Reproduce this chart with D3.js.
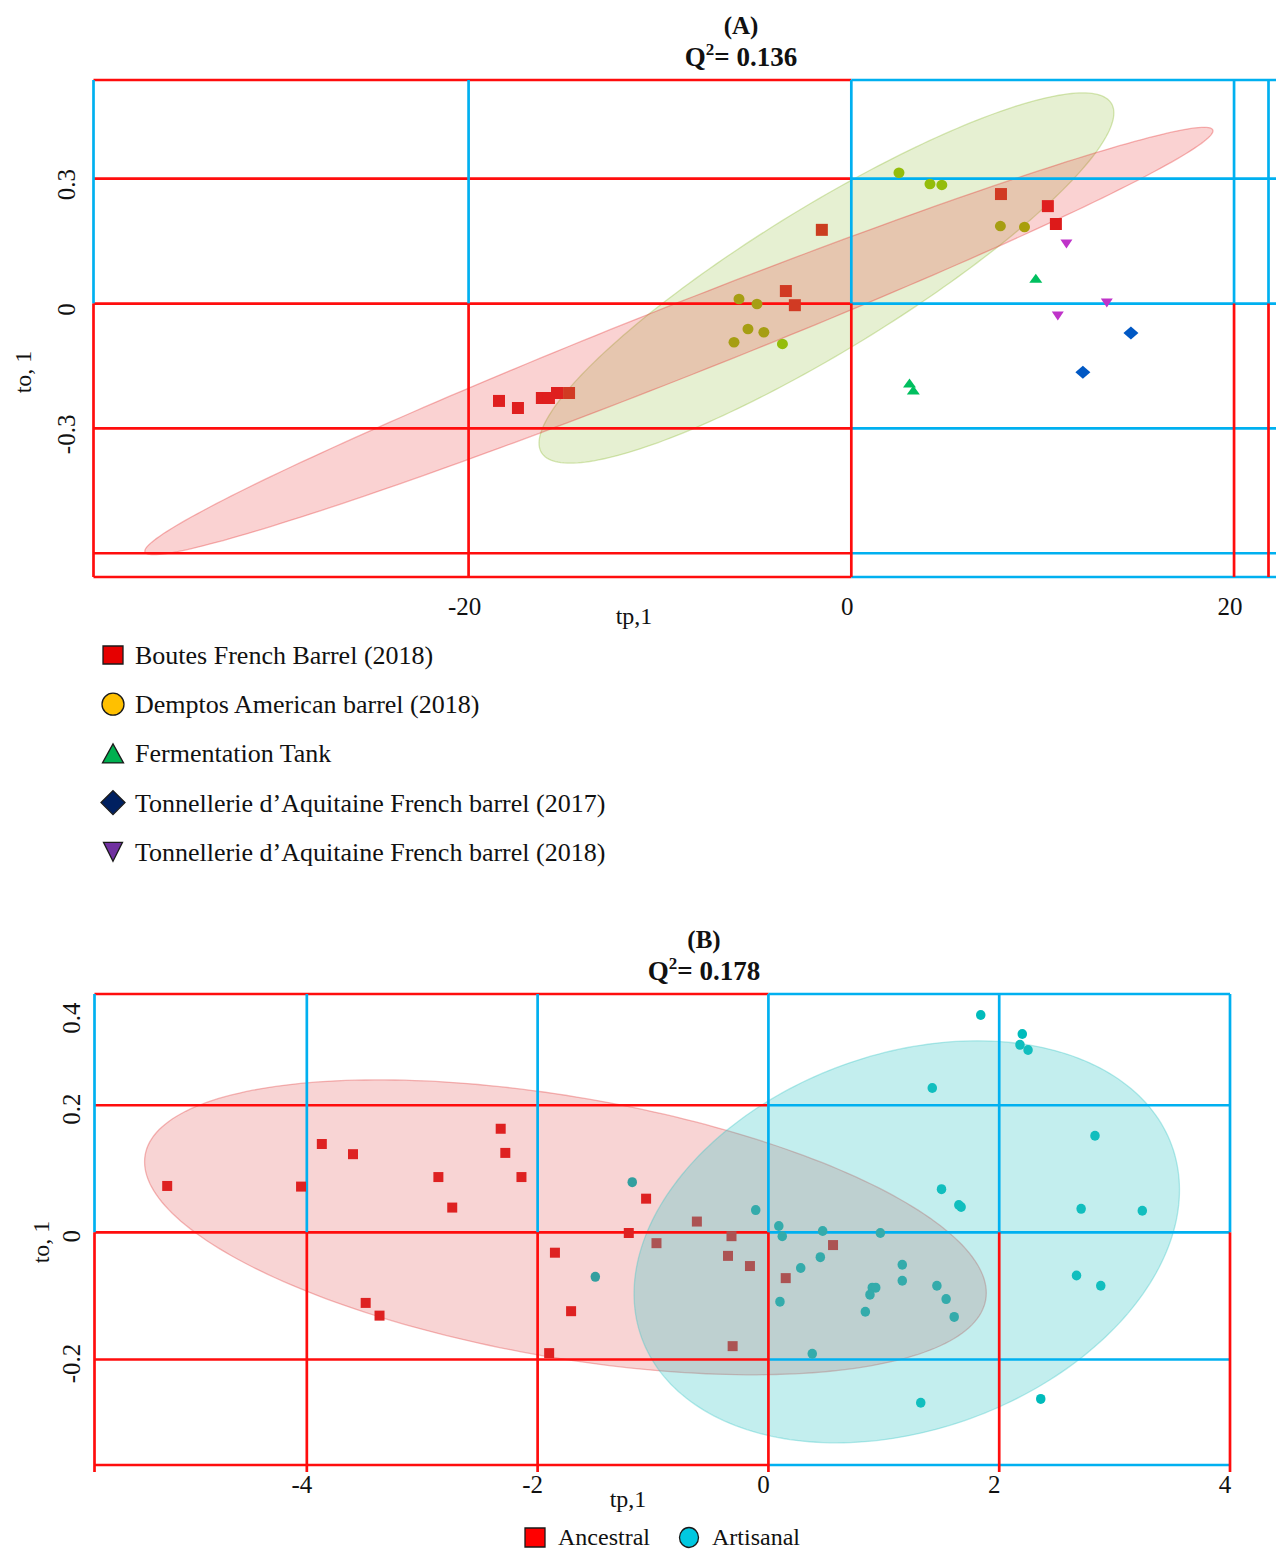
<!DOCTYPE html>
<html>
<head>
<meta charset="utf-8">
<script src="https://cdn.jsdelivr.net/npm/d3@7"></script>
<style>
body { margin: 0; background: #fff; }
svg { display: block; font-family: 'Liberation Serif', 'Times New Roman', serif; }
</style>
</head>
<body>
<div id="chart"></div>
<script>
// ---- panel A : five barrel groups ----
const groupsA = ['Boutes French Barrel (2018)', 'Demptos American barrel (2018)', 'Fermentation Tank',
	'Tonnellerie d\u2019Aquitaine French barrel (2017)', 'Tonnellerie d\u2019Aquitaine French barrel (2018)'];

const boutesX = [-18.41, -17.42, -16.17, -15.80, -15.38, -14.75, -3.42, -2.95, -1.54, 7.82, 10.27, 10.69];
const boutesY = [-0.234, -0.251, -0.227, -0.227, -0.215, -0.215, 0.030, -0.004, 0.177, 0.263, 0.234, 0.191];
const demptosX = [2.49, 4.11, 4.73, 7.79, 9.05, -5.87, -4.93, -5.40, -4.57, -6.13, -3.60];
const demptosY = [0.314, 0.287, 0.285, 0.186, 0.184, 0.011, -0.001, -0.061, -0.069, -0.093, -0.097];
const tankX = [9.64, 3.04, 3.24];
const tankY = [0.061, -0.191, -0.208];
const tonn2017X = [14.61, 12.10];
const tonn2017Y = [-0.071, -0.165];
const tonn2018X = [11.24, 13.35, 10.79];
const tonn2018Y = [0.143, 0.001, -0.030];

// confidence ellipses: centre x, centre y, semi-axis u (x, y), semi-axis v (x, y)
const ellipseDemptos = [-1.30, 0.0613, 14.89, 0.4195, 1.964, -0.1476];
const ellipseBoutes = [-9.01, -0.090, 27.9, 0.507, 0.69, -0.0805];

const xTicksA = [-20, 0, 20];
const yTicksA = [0.3, 0, -0.3];
const yExtraA = [-0.6];

// ---- panel B : Ancestral vs Artisanal ----
const groupsB = ['Ancestral', 'Artisanal'];

const ancestralX = [-5.21, -4.05, -3.87, -3.60, -2.86, -2.74, -2.32, -2.28, -2.14, -1.21, -1.06, -1.85,
	-0.97, -0.62, -0.35, -0.32, -0.16, 0.15, 0.56, -3.49, -3.37, -1.71, -1.90, -0.31];
const ancestralY = [0.073, 0.072, 0.139, 0.123, 0.087, 0.039, 0.163, 0.125, 0.087, -0.001, 0.053, -0.032,
	-0.017, 0.017, -0.037, -0.006, -0.053, -0.072, -0.020, -0.111, -0.131, -0.124, -0.190, -0.179];
const artisanalX = [1.84, 2.20, 2.18, 2.25, 1.42, 2.83, 1.50, 1.65, 1.67, 2.71, 3.24, -1.18, -0.11, 0.09,
	0.12, 0.47, 0.97, 0.28, 0.45, 1.16, 1.16, 0.90, 0.93, 0.88, 0.10, 0.84, 1.46, 1.54, 1.61, 0.38,
	1.32, 2.36, 2.67, 2.88, -1.50];
const artisanalY = [0.342, 0.312, 0.295, 0.287, 0.227, 0.152, 0.068, 0.043, 0.040, 0.037, 0.034, 0.079,
	0.035, 0.010, -0.006, 0.002, -0.001, -0.056, -0.039, -0.051, -0.076, -0.087, -0.087, -0.098, -0.109,
	-0.125, -0.084, -0.105, -0.133, -0.191, -0.268, -0.262, -0.068, -0.084, -0.070];

const ellipseAncestral = [-1.759, 0.0079, 3.642, -0.1139, -0.1925, -0.2021];
const ellipseArtisanal = [1.199, -0.0149, 2.297, 0.1513, 0.556, -0.2777];

const xTicksB = [-4, -2, 0, 2, 4];
const yTicksB = [0.4, 0.2, 0, -0.2];
const yGridB = [0.2, 0, -0.2];

// ---- layout ----
const width = 1276, height = 1550;
const red = '#ff0d0d', blue = '#00b0f0';

const svg = d3.select('#chart')
.append('svg')
.attr('width', width)
.attr('height', height);

const xA = d3.scaleLinear().domain([-39.6, 21.8]).range([93.5, 1268.5]);
const yA = d3.scaleLinear().domain([0.537, -0.657]).range([80, 577]);
const xB = d3.scaleLinear().domain([-5.84, 4]).range([94.5, 1230]);
const yB = d3.scaleLinear().domain([0.375, -0.366]).range([994, 1465]);

const shapes = {
	square: (w, h) => `M${-w/2},${-h/2}h${w}v${h}h${-w}Z`,
	circle: (w, h) => `M${-w/2},0a${w/2},${h/2} 0 1,0 ${w},0a${w/2},${h/2} 0 1,0 ${-w},0Z`,
	up: (w, h) => `M0,${-h/2}L${w/2},${h/2}L${-w/2},${h/2}Z`,
	down: (w, h) => `M0,${h/2}L${w/2},${-h/2}L${-w/2},${-h/2}Z`,
	diamond: (w, h) => `M0,${-h/2}L${w/2},0L0,${h/2}L${-w/2},0Z`
};

const inside = (e, px, py) => {
	const [cx, cy, ux, uy, vx, vy] = e;
	const dx = px - cx, dy = py - cy, det = ux * vy - uy * vx;
	const s = (dx * vy - dy * vx) / det, t = (ux * dy - uy * dx) / det;
	return s * s + t * t <= 1;
};

// the ellipses are laid over the markers, so tint each marker by the layers covering it
const tint = (base, layers, px, py) => layers.reduce((c, l) =>
	inside(l.e, px, py) ? d3.interpolateRgb(c, l.fill)(l.alpha) : c, base);

const ellipsePath = (e, x, y) => {
	const [cx, cy, ux, uy, vx, vy] = e;
	return d3.line().curve(d3.curveLinearClosed)(d3.range(0, 2 * Math.PI, Math.PI / 120)
		.map(t => [x(cx + Math.cos(t) * ux + Math.sin(t) * vx), y(cy + Math.cos(t) * uy + Math.sin(t) * vy)]));
};

const drawPanel = (opt) => {

	const { x, y, xLines, yLines, layers, series, overhang, tickLen } = opt;
	const g = svg.append('g');
	const [xl, xr] = x.domain(), [yt, yb] = y.domain();

	g.append('g')
	.selectAll('path')
	.data(layers)
	.join('path')
	.attr('d', l => ellipsePath(l.e, x, y))
	.attr('fill', l => l.fill)
	.attr('fill-opacity', l => l.alpha)
	.attr('stroke', l => l.fill)
	.attr('stroke-opacity', 0.35)
	.attr('stroke-width', 1.3);

	// horizontal lines: red left of zero, blue right of zero
	const hSeg = yLines.flatMap(v => [
		{ x1: x(xl), x2: x(0), y: y(v), c: red },
		{ x1: x(0), x2: x(xr) + overhang, y: y(v), c: blue }
	]);
	// vertical lines: blue above zero, red below zero
	const vSeg = xLines.flatMap(v => [
		{ y1: y(yt), y2: y(0), x: x(v), c: blue },
		{ y1: y(0), y2: y(yb) + tickLen, x: x(v), c: red }
	]);

	g.append('g')
	.selectAll('line')
	.data(hSeg)
	.join('line')
	.attr('x1', d => d.x1).attr('x2', d => d.x2)
	.attr('y1', d => d.y).attr('y2', d => d.y)
	.attr('stroke', d => d.c)
	.attr('stroke-width', 2.7);

	g.append('g')
	.selectAll('line')
	.data(vSeg)
	.join('line')
	.attr('x1', d => d.x).attr('x2', d => d.x)
	.attr('y1', d => d.y1).attr('y2', d => d.y2)
	.attr('stroke', d => d.c)
	.attr('stroke-width', 2.7);

	series.forEach(s => {
		const pts = s.xs.map((v, i) => [v, s.ys[i]]);
		g.append('g')
		.selectAll('path')
		.data(pts)
		.join('path')
		.attr('transform', d => `translate(${x(d[0])},${y(d[1])})`)
		.attr('d', shapes[s.shape](s.w, s.h))
		.attr('fill', d => tint(s.color, layers, d[0], d[1]));
	});

	return g;
};

const text = (str, px, py, size, opts = {}) => svg.append('text')
	.attr('x', px).attr('y', py)
	.attr('font-size', size)
	.attr('font-weight', opts.bold ? 'bold' : 'normal')
	.attr('text-anchor', opts.anchor || 'middle')
	.attr('fill', '#111')
	.text(str);

const rotText = (str, px, py, size) => svg.append('text')
	.attr('transform', `translate(${px},${py}) rotate(-90)`)
	.attr('font-size', size)
	.attr('text-anchor', 'middle')
	.attr('fill', '#111')
	.text(str);

const qTitle = (label, q, cx, y1, y2) => {
	text(label, cx, y1, 25, { bold: true });
	const t = text('Q', cx, y2, 27, { bold: true });
	t.append('tspan').attr('font-size', 17).attr('dy', -11).text('2');
	t.append('tspan').attr('dy', 11).text('= ' + q);
};

// ---- panel A ----
const layersA = [
	{ e: ellipseDemptos, fill: 'rgb(141,186,50)', alpha: 0.22 },
	{ e: ellipseBoutes, fill: 'rgb(230,48,48)', alpha: 0.22 }
];

drawPanel({
	x: xA, y: yA,
	xLines: [xA.domain()[0], ...xTicksA, xA.domain()[1]],
	yLines: [yA.domain()[0], ...yTicksA, ...yExtraA, yA.domain()[1]],
	layers: layersA,
	overhang: 8, tickLen: 0,
	series: [
		{ xs: boutesX, ys: boutesY, shape: 'square', w: 12, h: 12, color: '#dd1a1a' },
		{ xs: demptosX, ys: demptosY, shape: 'circle', w: 11, h: 10.5, color: 'rgb(150,190,0)' },
		{ xs: tankX, ys: tankY, shape: 'up', w: 13, h: 9, color: '#00bf5f' },
		{ xs: tonn2017X, ys: tonn2017Y, shape: 'diamond', w: 15, h: 13, color: '#0058c4' },
		{ xs: tonn2018X, ys: tonn2018Y, shape: 'down', w: 12, h: 9, color: '#bf33c9' }
	]
});

qTitle('(A)', '0.136', 741, 34, 66);

xTicksA.forEach(v => text(v, xA(v) - 4, yA.range()[1] + 38, 25));
yTicksA.forEach(v => rotText(v, 75, yA(v) + 6, 25));
text('tp,1', 634, 624, 24);
rotText('to, 1', 31, 372, 24);

// legend A
const legendA = [
	{ shape: 'square', w: 20, h: 18, color: '#e60000' },
	{ shape: 'circle', w: 22, h: 22, color: '#ffc000' },
	{ shape: 'up', w: 21, h: 19, color: '#00b050' },
	{ shape: 'diamond', w: 24, h: 24, color: '#002060' },
	{ shape: 'down', w: 19, h: 19, color: '#7030a0' }
];

legendA.forEach((l, i) => {
	const cy = 655 + i * 49.2;
	svg.append('path')
	.attr('transform', `translate(113,${cy})`)
	.attr('d', shapes[l.shape](l.w, l.h))
	.attr('fill', l.color)
	.attr('stroke', '#1a1a1a')
	.attr('stroke-width', 1.3);
	text(groupsA[i], 135, cy + 9, 26, { anchor: 'start' });
});

// ---- panel B ----
const layersB = [
	{ e: ellipseAncestral, fill: 'rgb(225,60,60)', alpha: 0.22 },
	{ e: ellipseArtisanal, fill: 'rgb(55,198,198)', alpha: 0.3 }
];

drawPanel({
	x: xB, y: yB,
	xLines: [xB.domain()[0], ...xTicksB.filter(v => v > xB.domain()[0])],
	yLines: [yB.domain()[0], ...yGridB, yB.domain()[1]],
	layers: layersB,
	overhang: 0, tickLen: 7,
	series: [
		{ xs: ancestralX, ys: ancestralY, shape: 'square', w: 10, h: 10, color: '#dd1a1a' },
		{ xs: artisanalX, ys: artisanalY, shape: 'circle', w: 9.5, h: 10, color: 'rgb(0,187,187)' }
	]
});

qTitle('(B)', '0.178', 704, 948, 980);

xTicksB.forEach(v => text(v, xB(v) - 5, yB.range()[1] + 28, 25));
yTicksB.forEach(v => rotText(v, 80, Math.max(yB.range()[0] + 24, yB(v) + 4), 25));
text('tp,1', 628, 1507, 24);
rotText('to, 1', 49, 1242, 24);

// legend B
svg.append('path')
.attr('transform', 'translate(535,1537.5)')
.attr('d', shapes.square(20, 19))
.attr('fill', '#ff0000')
.attr('stroke', '#1a1a1a')
.attr('stroke-width', 1.3);
text(groupsB[0], 558, 1545, 24, { anchor: 'start' });

svg.append('path')
.attr('transform', 'translate(689,1537.5)')
.attr('d', shapes.circle(19, 20))
.attr('fill', '#00c8e0')
.attr('stroke', '#1a1a1a')
.attr('stroke-width', 1.3);
text(groupsB[1], 712, 1545, 24, { anchor: 'start' });
</script>
</body>
</html>
